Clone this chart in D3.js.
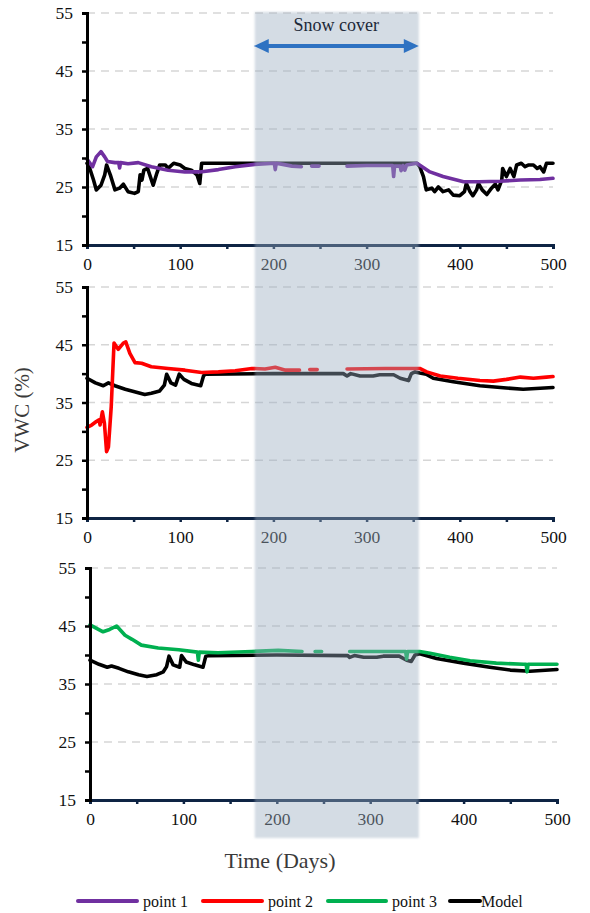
<!DOCTYPE html>
<html>
<head>
<meta charset="utf-8">
<script src="https://cdn.jsdelivr.net/npm/d3@7"></script>
<style>
  body { margin: 0; background: #fff; }
  svg { display: block; font-family: "Liberation Serif", "Times New Roman", serif; }
  svg text { font-family: "Liberation Serif", "Times New Roman", serif !important; }
</style>
</head>
<body>
<svg width="590" height="913"></svg>
<script>
// ---- data: [day, VWC %], null = gap in record ----
var point1 = [[0,29.8],[6,28.5],[10,30.2],[15,31.1],[19,30.2],[22,29.4],[30,29.2],[34,29.2],[35,28.3],[36,29.2],
  [44,29.0],[55,29.2],[69,28.5],[87,27.9],[105,27.6],[121,27.6],[141,28.0],[159,28.5],[180,28.9],[201,29.1],
  [202,28.0],[203,29.1],[210,28.9],[220,28.6],[230,28.5],[230,null],[241,28.6],[249,28.6],[249,null],[279,28.6],
  [300,28.7],[320,28.7],[328,28.7],[329,26.8],[330,28.6],[336,28.6],[337,27.8],[339,28.7],[341,27.9],[343,28.8],
  [354,29.1],[368,27.6],[382,26.8],[404,25.9],[421,25.9],[443,26.0],[465,26.2],[486,26.3],[500,26.5]];

var model1 = [[0,29.1],[3,28.2],[7,26.2],[10,24.5],[15,25.3],[19,27.1],[21,28.8],[25,27.1],[30,24.5],[35,24.8],
  [39,25.5],[44,24.2],[51,23.9],[55,24.2],[57,27.1],[59,26.2],[61,27.9],[65,28.2],[71,25.3],[75,27.4],[78,28.8],
  [84,28.8],[87,28.2],[93,29.1],[100,28.8],[105,28.2],[112,27.9],[118,27.1],[121,25.6],[123,29.1],[200,29.1],
  [280,29.1],[354,29.1],[357,28.5],[361,26.8],[364,24.5],[370,24.8],[373,24.2],[377,25.0],[382,24.2],[388,24.5],
  [393,23.6],[400,23.5],[405,24.2],[407,25.6],[411,24.2],[414,23.5],[418,24.5],[420,25.6],[424,24.5],[429,23.7],
  [434,24.8],[438,25.5],[441,24.5],[445,26.2],[446,28.2],[450,26.8],[454,28.2],[458,26.8],[461,28.8],[466,29.1],
  [470,28.5],[474,28.8],[479,28.8],[483,28.2],[486,28.5],[490,27.6],[493,29.1],[500,29.1]];

var point2 = [[0,30.7],[5,31.1],[10,31.7],[13,32.0],[14,31.1],[16.5,33.4],[18.7,31.4],[21,26.5],[23,27.3],[26,34.3],
  [29,45.3],[33.5,44.2],[39,45.3],[41.6,45.5],[46,43.5],[51.5,41.9],[58.6,41.8],[69,41.2],[87,40.9],[105,40.6],
  [123,40.2],[141,40.3],[159,40.5],[177,40.9],[191,40.8],[202,41.1],[213,40.6],[228,40.6],[228,null],[239,40.7],
  [247,40.7],[247,null],[279,40.8],[320,40.9],[357,40.9],[364.5,40.3],[379,39.6],[398,39.2],[421.6,38.8],
  [436,38.7],[450,39.0],[465,39.4],[479,39.2],[493,39.4],[500,39.5]];

var model2 = [[0,39.2],[9,38.4],[17.5,37.9],[23,38.4],[30,37.9],[41,37.3],[50,36.9],[62,36.4],[69,36.6],[78,37.0],
  [83,38.0],[85.5,39.9],[90,38.4],[95,38.0],[99,39.9],[104,39.0],[112,38.3],[122,37.9],[125,39.6],[127,39.9],
  [200,40.0],[275,40.0],[279,39.6],[283,40.0],[293,39.6],[307,39.6],[314,39.8],[329,39.8],[336,39.2],[345,38.8],
  [348,40.0],[352,40.3],[357,40.1],[364,39.9],[371.5,39.2],[393,38.6],[421.6,37.9],[450,37.5],[468,37.3],[500,37.6]];

var point3 = [[0,45.2],[7,44.6],[14,44.0],[21,44.4],[28.5,45.0],[37.5,43.4],[45,42.7],[55,41.7],[73,41.2],[95,40.9],
  [115,40.5],[116,39.1],[117,40.5],[137,40.4],[173,40.6],[201.6,40.8],[227,40.6],[227,null],[241,40.6],[248,40.6],
  [248,null],[278,40.6],[338,40.6],[339,39.3],[340,40.6],[353,40.6],[364,40.3],[385,39.6],[407,39.0],[435,38.6],
  [464,38.4],[467,38.4],[468,37.1],[469,38.4],[500,38.4]];

var model3 = [[0,39.1],[9.6,38.4],[18.5,37.9],[23,38.1],[31,37.7],[41,37.1],[52,36.6],[61,36.3],[71.5,36.6],
  [78.5,37.1],[82,38.0],[84.6,39.8],[89,38.3],[96,37.9],[98,39.9],[103,38.8],[112,38.3],[121,37.9],[124,39.8],
  [128,39.9],[200,40.0],[276,39.9],[278,39.6],[283,39.9],[293,39.6],[307,39.6],[314,39.8],[331,39.8],[339,39.1],
  [344,38.9],[348,40.0],[353,40.2],[371,39.4],[400,38.6],[428,37.9],[450,37.4],[471,37.2],[500,37.5]];

var seriesNames = ["point 1", "point 2", "point 3", "Model"];
var seriesColors = ["#7030a0", "#ff0000", "#00b050", "#000000"];
var snowCover = [180, 356];
var yTicks = d3.range(15, 56, 5);
var xTicks = d3.range(0, 501, 50);

var svg = d3.select("svg");

// panel boxes (pixel positions of each small chart)
var panels = [
  { pts: point1, model: model1, color: seriesColors[0], x0: 87, x1: 553, top: 13, bottom: 245 },
  { pts: point2, model: model2, color: seriesColors[1], x0: 87, x1: 553, top: 287, bottom: 518 },
  { pts: point3, model: model3, color: seriesColors[2], x0: 90, x1: 557, top: 568, bottom: 800 }
];

var defined = function(d) { return d[1] != null; };

panels.forEach(function(p) {
  var x = d3.scaleLinear().domain([0, 500]).range([p.x0, p.x1]);
  var y = d3.scaleLinear().domain([15, 55]).range([p.bottom, p.top]);
  p.x = x;
  var g = svg.append("g");

  // dashed gridlines
  g.selectAll(".grid").data([25, 35, 45, 55]).enter().append("line")
    .attr("x1", p.x0).attr("x2", p.x1)
    .attr("y1", function(d) { return y(d); }).attr("y2", function(d) { return y(d); })
    .attr("stroke", "#d6d6d6").attr("stroke-width", 1.6).attr("stroke-dasharray", "8,6");

  var line = d3.line().defined(defined)
    .x(function(d) { return x(d[0]); })
    .y(function(d) { return y(d[1]); });

  g.append("path").datum(p.model).attr("d", line)
    .attr("fill", "none").attr("stroke", "#000").attr("stroke-width", 3.6)
    .attr("stroke-linejoin", "round").attr("stroke-linecap", "round");

  g.append("path").datum(p.pts).attr("d", line)
    .attr("fill", "none").attr("stroke", p.color).attr("stroke-width", 3.6)
    .attr("stroke-linejoin", "round").attr("stroke-linecap", "round");

  // x axis
  var xAxis = d3.axisBottom(x).tickValues(xTicks).tickSize(4).tickPadding(9)
    .tickFormat(function(d) { return d % 100 === 0 ? d : ""; });
  var gx = g.append("g").attr("transform", "translate(0," + p.bottom + ")").call(xAxis)
    .attr("font-family", null).attr("font-size", 17.5);
  gx.select(".domain").attr("stroke", "#0e2444").attr("stroke-width", 3);
  gx.selectAll(".tick line").attr("stroke", "#0e2444").attr("stroke-width", 2.5);
  gx.selectAll("text").attr("fill", "#111");

  // y axis
  var yAxis = d3.axisLeft(y).tickValues(yTicks).tickSize(5).tickPadding(9)
    .tickFormat(function(d) { return (d - 15) % 10 === 0 ? d : ""; });
  var gy = g.append("g").attr("transform", "translate(" + p.x0 + ",0)").call(yAxis)
    .attr("font-family", null).attr("font-size", 17.5);
  gy.select(".domain").attr("stroke", "#000").attr("stroke-width", 3);
  gy.selectAll(".tick line").attr("stroke", "#000").attr("stroke-width", 2.5);
  gy.selectAll("text").attr("fill", "#111");
});

// snow cover band, laid over everything
var defs = svg.append("defs");
defs.append("filter").attr("id", "soft").attr("x", "-5%").attr("width", "110%")
  .append("feGaussianBlur").attr("stdDeviation", 1.2);

var xs = panels[0].x;
svg.append("rect")
  .attr("x", xs(snowCover[0])).attr("width", xs(snowCover[1]) - xs(snowCover[0]))
  .attr("y", 12).attr("height", 826)
  .attr("fill", "rgb(152,171,190)").attr("fill-opacity", 0.42)
  .attr("filter", "url(#soft)");

// double arrow + label
var arrowColor = "#2e72c2";
var ay = 46, ax0 = xs(snowCover[0]) - 1, ax1 = xs(snowCover[1]);
svg.append("line").attr("x1", ax0 + 12).attr("x2", ax1 - 12).attr("y1", ay).attr("y2", ay)
  .attr("stroke", arrowColor).attr("stroke-width", 4);
svg.append("path")
  .attr("d", "M" + ax0 + "," + ay + " L" + (ax0 + 15) + "," + (ay - 7) + " L" + (ax0 + 15) + "," + (ay + 7) + "Z")
  .attr("fill", arrowColor);
svg.append("path")
  .attr("d", "M" + ax1 + "," + ay + " L" + (ax1 - 15) + "," + (ay - 7) + " L" + (ax1 - 15) + "," + (ay + 7) + "Z")
  .attr("fill", arrowColor);
svg.append("text").attr("x", (ax0 + ax1) / 2).attr("y", 31)
  .attr("text-anchor", "middle").attr("font-size", 18).attr("fill", "#1c2838")
  .text("Snow cover");

// axis titles
svg.append("text").attr("transform", "translate(29,410) rotate(-90)")
  .attr("text-anchor", "middle").attr("font-size", 21).attr("fill", "#3a3a3a")
  .text("VWC (%)");
svg.append("text").attr("x", 280).attr("y", 868)
  .attr("text-anchor", "middle").attr("font-size", 22).attr("fill", "#3a3a3a")
  .text("Time (Days)");

// legend
var legendX = [78, 203, 328, 450];
var legendW = [59, 59, 58, 30];
var lg = svg.append("g");
seriesNames.forEach(function(name, i) {
  lg.append("line").attr("x1", legendX[i]).attr("x2", legendX[i] + legendW[i])
    .attr("y1", 901).attr("y2", 901)
    .attr("stroke", seriesColors[i]).attr("stroke-width", 4).attr("stroke-linecap", "round");
  lg.append("text").attr("x", legendX[i] + legendW[i] + (i === 3 ? 1 : 6)).attr("y", 907)
    .attr("font-size", 16).attr("fill", "#111").text(name);
});
</script>
</body>
</html>
